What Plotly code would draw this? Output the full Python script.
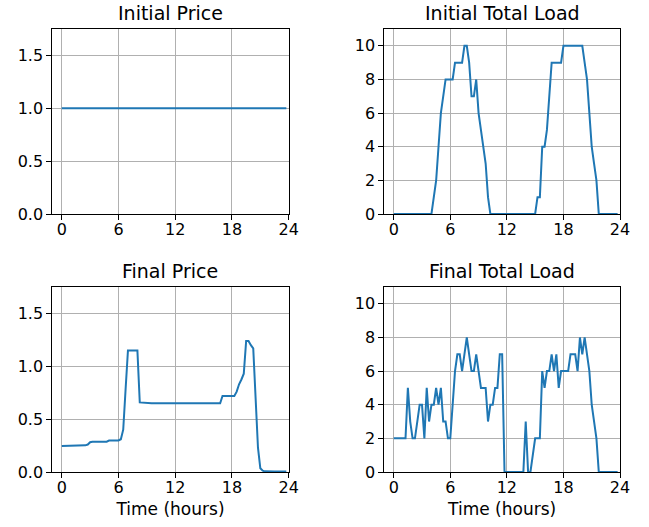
import plotly.graph_objects as go

# time axis: quarter-hours 0 .. 23.75
hours = [i * 0.25 for i in range(96)]

initial_price = [1.0] * 96

initial_load = [
    0, 0, 0, 0, 0, 0, 0, 0, 0, 0, 0, 0, 0, 0, 0, 0,   # 0-3.75
    0, 1, 2, 4, 6, 7, 8, 8, 8, 8, 9, 9, 9, 9, 10, 10,  # 4-7.75
    9, 7, 7, 8, 6, 5, 4, 3, 1, 0, 0, 0, 0, 0, 0, 0,    # 8-11.75
    0, 0, 0, 0, 0, 0, 0, 0, 0, 0, 0, 0, 0, 1, 1, 4,    # 12-15.75
    4, 5, 7, 9, 9, 9, 9, 9, 10, 10, 10, 10, 10, 10, 10, 10,  # 16-19.75
    10, 9, 8, 6, 4, 3, 2, 0, 0, 0, 0, 0, 0, 0, 0, 0,   # 20-23.75
]

final_price = [
    0.245, 0.245, 0.245, 0.245, 0.245, 0.245, 0.245, 0.245,
    0.252, 0.252, 0.252, 0.26, 0.282, 0.287, 0.287, 0.287,
    0.287, 0.287, 0.287, 0.287, 0.297, 0.298, 0.298, 0.298,
    0.298, 0.31, 0.40, 0.78, 1.15, 1.15, 1.15, 1.15,
    1.15, 0.658, 0.655, 0.652, 0.65, 0.65, 0.65, 0.65,
    0.65, 0.65, 0.65, 0.65, 0.65, 0.65, 0.65, 0.65,
    0.65, 0.65, 0.65, 0.65, 0.65, 0.65, 0.65, 0.65,
    0.65, 0.65, 0.65, 0.65, 0.65, 0.65, 0.65, 0.65,
    0.65, 0.65, 0.65, 0.65, 0.72, 0.72, 0.72, 0.72,
    0.72, 0.72, 0.76, 0.83, 0.875, 0.93, 1.24, 1.24,
    1.2, 1.17, 0.70, 0.23, 0.035, 0.012, 0.006, 0.004,
    0.004, 0.004, 0.004, 0.004, 0.004, 0.004, 0.004, 0.004,
]

final_load = [
    2, 2, 2, 2, 2, 2, 5, 3, 2, 2, 3, 4, 4, 2, 5, 3,    # 0-3.75
    4, 4, 5, 4, 5, 3, 3, 2, 2, 4, 6, 7, 7, 6, 7, 8,    # 4-7.75
    7, 6, 6, 7, 6, 5, 5, 5, 3, 4, 4, 5, 5, 7, 7, 0,    # 8-11.75
    0, 0, 0, 0, 0, 0, 0, 0, 3, 0, 0, 1, 2, 2, 2, 6,    # 12-15.75
    5, 6, 6, 7, 6, 7, 5, 6, 6, 6, 6, 7, 7, 7, 6, 8,    # 16-19.75
    7, 8, 7, 6, 4, 3, 2, 0, 0, 0, 0, 0, 0, 0, 0, 0,    # 20-23.75
]

titles = ["Initial Price", "Initial Total Load", "Final Price", "Final Total Load"]
x_ticks = [0, 6, 12, 18, 24]
price_ticks = [0.0, 0.5, 1.0, 1.5]
load_ticks = [0, 2, 4, 6, 8, 10]

W, H = 649, 527
BLUE = "#1f77b4"
FONT = "DejaVu Sans"
INK = "#000000"


def xd(a, b):
    return [a / W, b / W]


def yd(top, bottom):
    return [1 - bottom / H, 1 - top / H]


xdom_l = xd(52.3, 288.7)
xdom_r = xd(384.3, 620.0)
ydom_t = yd(29.0, 214.0)
ydom_b = yd(287.0, 472.0)

fig = go.Figure()

panels = [
    (initial_price, "x", "y", xdom_l, ydom_t, [0, 1.75], price_ticks, ".1f", False),
    (initial_load, "x2", "y2", xdom_r, ydom_t, [0, 11], load_ticks, "d", False),
    (final_price, "x3", "y3", xdom_l, ydom_b, [0, 1.75], price_ticks, ".1f", True),
    (final_load, "x4", "y4", xdom_r, ydom_b, [0, 11], load_ticks, "d", True),
]

layout = dict(
    width=W, height=H,
    margin=dict(l=0, r=0, t=0, b=0, autoexpand=False),
    paper_bgcolor="white", plot_bgcolor="white",
    showlegend=False,
    font=dict(family=FONT, size=16, color=INK),
)

annotations = []
for k, (ys, xa, ya, xdm, ydm, yr, yt, fmt, xlabel) in enumerate(panels):
    fig.add_trace(go.Scatter(x=hours, y=ys, mode="lines", xaxis=xa, yaxis=ya,
                             line=dict(color=BLUE, width=2)))
    xname = "xaxis" if k == 0 else f"xaxis{k + 1}"
    yname = "yaxis" if k == 0 else f"yaxis{k + 1}"
    common = dict(showline=True, linecolor=INK, linewidth=1, mirror=True,
                  showgrid=True, gridcolor="#b0b0b0", gridwidth=1,
                  ticks="outside", ticklen=5, tickwidth=1, tickcolor=INK,
                  zeroline=False, automargin=False,
                  tickfont=dict(family=FONT, size=16, color=INK))
    layout[xname] = dict(domain=xdm, range=[-1, 24], tickmode="array", tickvals=x_ticks,
                         anchor=ya, ticklabelstandoff=-4, **common)
    if xlabel:
        layout[xname]["title"] = dict(text="Time (hours)", standoff=6,
                                      font=dict(family=FONT, size=17, color=INK))
    layout[yname] = dict(domain=ydm, range=yr, tickmode="array", tickvals=yt,
                         tickformat=fmt, anchor=xa, **common)
    annotations.append(dict(text=titles[k], xref="paper", yref="paper",
                            x=(xdm[0] + xdm[1]) / 2, y=ydm[1], xanchor="center",
                            yanchor="bottom", yshift=3, showarrow=False,
                            font=dict(family=FONT, size=19, color=INK)))

layout["annotations"] = annotations
fig.update_layout(**layout)
# remove the browser's default 8px body margin so the figure sits at the page corner
fig.write_html("out.html", config={"displayModeBar": False},
               post_script="document.body.style.margin='0px';")
